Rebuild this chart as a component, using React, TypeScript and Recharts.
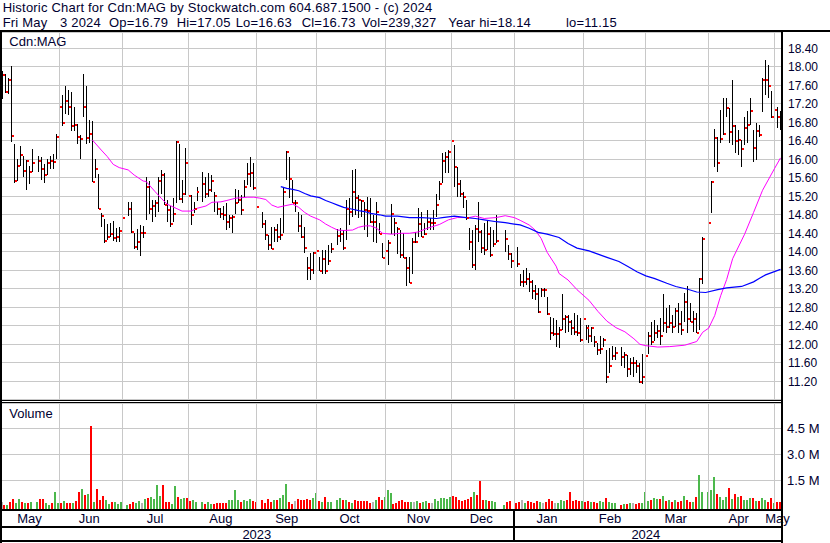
import React from "react";
import {
  ComposedChart,
  Bar,
  Line,
  Scatter,
  XAxis,
  YAxis,
  CartesianGrid,
  ReferenceLine,
} from "recharts";

const FONT = '"Liberation Sans", Arial, sans-serif';
const INK = "#000030";
const GRID = "#c8c8c8";

// one slot per weekday, 2023-05-05 .. 2024-05-03; null = TSX holiday
const highs = [
  17.91, 17.84, 17.75, 18.02, 16.32, 16.0, 16.29, 16.07, 15.98, 15.86,
  16.22, null, 16.07, 16.04, 15.9, 16.0, 16.07, 16.11, 16.55, 17.3,
  17.4, 17.58, 17.5, 17.46, 17.14, 16.76, 16.52, 17.84, 17.58, 16.85,
  16.83, 16.01, 15.68, 14.83, 14.71, 14.6, 14.62, 14.67, 14.52, 14.54,
  14.8, null, 15.08, 15.08, 14.4, 14.49, 14.58, 14.55, 15.62, 15.52,
  15.11, 15.12, 15.62, 15.77, 15.7, 15.12, 14.98, 15.16, 16.4, 16.34,
  15.55, 16.24, 15.52, 15.23, 15.08, 15.4, null, 15.72, 15.62, 15.7,
  15.66, 15.3, 15.08, 14.94, 14.98, 15.05, 14.8, 14.8, 15.36, 15.34,
  15.23, 15.55, 15.91, 16.06, 15.91, 15.73, null, 14.85, 14.69, 14.36,
  14.54, 14.54, 14.61, 14.74, 15.41, 16.18, 16.06, 15.55, 15.12, 14.87,
  14.8, 14.54, 13.89, 13.97, 14.0, 14.65, 13.89, 14.04, 14.04, 14.15,
  14.18, null, 14.5, 14.51, 14.47, 15.13, 15.16, 15.77, 15.78, 15.23,
  15.12, 15.08, 15.19, 15.16, 14.8, 15.08, 14.62, 14.18, 14.18, 14.25,
  15.03, 14.74, 14.54, 14.47, 14.4, 13.89, 13.89, 14.29, 14.43, 14.94,
  14.87, 14.62, 14.9, 14.72, 14.9, 15.26, 15.52, 16.13, 16.16, 16.2,
  16.43, 16.31, 15.83, 15.55, 15.3, 15.12, 14.51, 14.47, 14.58, 15.08,
  14.47, 14.62, 14.69, 14.54, 14.47, 14.8, null, null, 14.47, 14.15,
  13.97, null, 14.11, 13.53, 13.6, 13.64, 13.55, 13.39, 13.28, 13.21,
  13.21, 13.21, 13.03, 12.6, 12.56, 12.53, 12.38, 13.08, 12.63, 12.63,
  12.53, 12.67, 12.63, 12.56, 12.67, 12.42, 12.42, 12.38, 12.17, 12.02,
  12.17, 12.13, 11.88, 11.91, 11.96, 11.95, null, 11.95, 11.84, 11.77,
  11.7, 11.73, 11.66, 11.59, 11.8, 11.84, 12.27, 12.49, 12.53, 12.42,
  12.56, 13.09, 12.78, 12.85, 12.63, 12.78, 12.89, 12.71, 13.1, 13.25,
  12.89, 12.71, 12.67, 13.43, 14.33, null, 15.08, 15.54, 16.66, 16.49,
  17.07, 17.32, 17.33, 17.1, 17.71, 16.74, 16.63, 16.42, 16.92, 17.04,
  17.33, 16.63, 16.78, 16.74, 17.75, 18.14, 18.04, 17.48, 17.28, 17.14,
  17.05,
];

const lows = [
  17.3, 17.43, 17.41, 16.38, 15.49, 15.52, 15.86, 15.62, 15.34, 15.47,
  15.72, null, 15.73, 15.55, 15.49, 15.66, 15.78, 15.78, 16.0, 16.55,
  16.73, 16.97, 16.96, 16.62, 16.62, 16.32, 16.01, 16.92, 16.32, 16.35,
  15.5, 15.6, 14.92, 14.54, 14.2, 14.26, 14.33, 14.24, 14.21, 14.21,
  14.4, null, 14.77, 14.4, 14.06, 14.03, 13.91, 14.3, 14.69, 14.81,
  14.65, 14.76, 14.87, 15.25, 15.01, 14.65, 14.54, 14.65, 15.06, 15.12,
  15.05, 15.23, 15.05, 14.58, 14.83, 15.1, null, 15.08, 15.16, 15.19,
  15.3, 14.87, 14.8, 14.72, 14.69, 14.47, 14.51, 14.4, 14.82, 15.05,
  14.8, 15.19, 15.44, 15.41, 15.34, 14.94, null, 14.52, 14.26, 14.04,
  14.05, 14.22, 14.22, 14.26, 14.4, 15.55, 15.16, 15.06, 14.87, 14.43,
  14.29, 13.97, 13.39, 13.39, 13.53, 13.53, 13.59, 13.53, 13.53, 13.71,
  13.97, null, 14.15, 14.22, 14.04, 14.26, 14.58, 14.76, 14.8, 14.72,
  14.76, 14.47, 14.33, 14.62, 14.22, 14.18, 14.38, 13.86, 13.75, 13.71,
  14.38, 14.34, 13.95, 13.86, 13.86, 13.25, 13.32, 13.53, 14.2, 14.33,
  14.31, 14.36, 14.47, 14.47, 14.47, 14.76, 15.12, 15.48, 15.71, 15.71,
  15.77, 15.41, 15.19, 15.19, 14.94, 14.69, 14.04, 13.64, 13.61, 14.22,
  13.97, 13.93, 14.04, 13.89, 14.11, 14.18, null, null, 14.0, 13.82,
  13.64, null, 13.68, 13.25, 13.23, 13.28, 13.12, 12.97, 12.96, 12.67,
  13.03, 13.03, 12.63, 12.09, 12.17, 11.95, 11.91, 12.31, 12.24, 12.27,
  12.2, 12.2, 12.17, 12.06, 12.27, 12.09, 12.02, 12.06, 11.95, 11.77,
  11.8, 11.95, 11.17, 11.37, 11.66, 11.66, null, 11.52, 11.48, 11.3,
  11.34, 11.3, 11.37, 11.17, 11.15, 11.45, 11.8, 11.98, 12.07, 12.13,
  11.98, 12.27, 12.24, 12.35, 12.24, 12.38, 12.24, 12.2, 12.49, 12.24,
  12.49, 12.27, 12.24, 12.3, 13.3, null, 14.42, 14.83, 15.84, 15.73,
  16.35, 16.53, 16.92, 16.35, 16.31, 16.13, 16.09, 15.84, 16.31, 16.35,
  16.74, 15.95, 15.99, 16.49, 17.03, 17.39, 17.32, 16.89, 16.78, 16.67,
  16.63,
];

const closes = [
  17.82, 17.46, 17.72, 16.51, 15.52, 15.86, 16.09, 15.75, 15.96, 15.73,
  15.93, null, 15.97, 15.8, 15.65, 15.91, 15.96, 15.95, 16.49, 17.14,
  16.78, 17.25, 17.14, 16.73, 16.74, 16.49, 16.44, 17.12, 16.47, 16.55,
  15.5, 15.79, 14.92, 14.77, 14.24, 14.33, 14.39, 14.3, 14.33, 14.46,
  14.74, null, 14.92, 14.43, 14.11, 14.21, 14.41, 14.41, 15.39, 14.93,
  14.99, 15.05, 15.53, 15.65, 15.01, 14.9, 14.6, 14.81, 16.37, 15.14,
  15.26, 15.91, 15.21, 14.8, 14.93, 15.3, null, 15.46, 15.24, 15.34,
  15.53, 15.21, 14.93, 14.82, 14.8, 14.64, 14.74, 14.76, 15.05, 15.13,
  14.9, 15.39, 15.68, 15.71, 15.37, 14.97, null, 14.59, 14.37, 14.15,
  14.05, 14.47, 14.33, 14.37, 15.3, 16.16, 15.57, 15.06, 15.06, 14.56,
  14.33, 14.08, 13.66, 13.61, 13.98, 14.02, 13.59, 13.84, 13.59, 13.8,
  14.05, null, 14.35, 14.39, 14.08, 14.93, 14.85, 15.3, 15.17, 15.11,
  15.1, 14.9, 14.88, 14.65, 14.65, 14.85, 14.38, 13.86, 14.02, 14.2,
  14.81, 14.63, 14.5, 13.94, 13.87, 13.66, 13.33, 14.21, 14.21, 14.6,
  14.33, 14.39, 14.64, 14.63, 14.63, 15.01, 15.46, 15.97, 16.04, 16.16,
  16.4, 15.84, 15.46, 15.26, 15.19, 14.72, 14.22, 13.71, 14.49, 14.43,
  14.09, 14.04, 14.39, 13.94, 14.16, 14.24, null, null, 14.28, 13.95,
  13.79, null, 13.73, 13.35, 13.35, 13.41, 13.34, 13.16, 13.08, 12.7,
  13.17, 13.17, 12.65, 12.25, 12.22, 12.22, 12.31, 12.54, 12.58, 12.48,
  12.35, 12.26, 12.25, 12.09, 12.55, 12.35, 12.17, 12.35, 12.04, 11.88,
  11.89, 12.09, 11.3, 11.54, 11.75, 11.82, null, 11.72, 11.76, 11.47,
  11.6, 11.6, 11.53, 11.19, 11.3, 11.74, 12.18, 12.04, 12.25, 12.29,
  12.17, 12.45, 12.38, 12.45, 12.38, 12.72, 12.43, 12.3, 12.92, 12.54,
  12.49, 12.54, 12.24, 13.41, 14.28, null, 14.63, 15.5, 16.47, 15.93,
  16.44, 16.55, 17.1, 16.58, 16.71, 16.4, 16.42, 16.22, 16.68, 16.74,
  17.05, 16.25, 16.61, 16.53, 17.71, 17.72, 17.59, 16.91, 17.06, 16.91,
  16.73,
];

// millions of shares
const volumes = [
  0.27, 0.1, 0.1, 0.27, 0.42, 0.18, 0.42, 0.23, 0.18, 0.18,
  0.23, null, 0.23, 0.42, 0.42, 0.18, 0.08, 0.2, 0.85, 0.2,
  0.2, 0.3, 0.18, 0.2, 0.18, 0.33, 0.85, 0.98, 0.65, 0.7,
  4.62, 0.25, 1.0, 0.35, 0.6, 0.35, 0.15, 0.25, 0.22, 0.15,
  0.25, null, 0.05, 0.15, 0.25, 0.2, 0.3, 0.2, 0.4, 0.45,
  0.55, 0.4, 1.25, 0.6, 1.2, 0.25, 0.25, 0.12, 1.18, 0.55,
  0.4, 0.5, 0.45, 0.3, 0.35, 0.25, null, 0.22, 0.15, 0.25,
  0.15, 0.15, 0.18, 0.2, 0.2, 0.2, 0.35, 0.35, 0.95, 0.35,
  0.25, 0.35, 0.3, 0.4, 0.3, 0.25, null, 0.35, 0.2, 0.4,
  0.25, 0.35, 0.35, 0.45, 0.65, 1.3, 0.25, 0.15, 0.28, 0.4,
  0.38, 0.35, 0.4, 0.35, 0.45, 0.75, 0.3, 0.25, 0.55, 0.25,
  0.25, null, 0.35, 0.5, 0.35, 0.35, 0.25, 0.2, 0.35, 0.3,
  0.3, 0.3, 0.3, 0.2, 0.25, 0.35, 0.55, 0.35, 0.55, 0.95,
  0.75, 0.15, 0.2, 0.3, 0.35, 0.25, 0.25, 0.25, 0.22, 0.3,
  0.2, 0.25, 0.3, 0.18, 0.2, 0.4, 0.3, 0.5, 0.45, 0.4,
  0.55, 0.6, 0.55, 0.35, 0.3, 0.35, 0.4, 0.55, 0.8, 0.65,
  1.45, 0.35, 0.35, 0.3, 0.3, 0.25, null, null, 0.1, 0.25,
  0.3, null, 0.2, 0.25, 0.35, 0.2, 0.3, 0.25, 0.2, 0.3,
  0.25, 0.2, 0.25, 0.4, 0.3, 0.2, 0.2, 0.35, 0.3, 0.35,
  0.85, 0.3, 0.35, 0.3, 0.3, 0.25, 0.3, 0.25, 0.25, 0.2,
  0.3, 0.25, 0.45, 0.25, 0.2, 0.2, null, 0.1, 0.15, 0.15,
  0.2, 0.2, 0.15, 0.2, 0.2, 0.8, 0.3, 0.35, 0.45, 0.4,
  0.4, 0.6, 0.3, 0.35, 0.25, 0.35, 0.25, 0.3, 0.6, 0.35,
  0.25, 0.25, 0.55, 1.8, 0.85, null, 0.8, 0.95, 1.7, 0.7,
  0.55, 0.35, 0.55, 1.05, 0.4, 0.7, 0.55, 0.6, 0.35, 0.35,
  0.45, 0.45, 0.3, 0.3, 0.45, 0.35, 0.25, 0.5, 0.2, 0.25,
  0.24,
];

// moving averages: [slot, value]
const maShort: [number, number][] = [
  [30, 16.42], [33, 16.2], [35, 16.06], [37, 15.89], [39, 15.82], [42, 15.77],
  [44, 15.66], [47, 15.53], [48, 15.52], [51, 15.3], [53, 15.16], [55, 15.03],
  [58, 14.94], [60, 14.88], [63, 14.88], [65, 14.94], [68, 14.99], [70, 15.07],
  [73, 15.08], [75, 15.11], [78, 15.16], [80, 15.17], [82, 15.18], [84, 15.18],
  [86, 15.16], [88, 15.13], [90, 15.01], [92, 14.96], [94, 14.99], [97, 15.03],
  [99, 14.96], [101, 14.85], [103, 14.77], [106, 14.69], [108, 14.6], [110, 14.53],
  [112, 14.47], [114, 14.46], [117, 14.47], [119, 14.53], [121, 14.56], [123, 14.56],
  [125, 14.51], [127, 14.4], [130, 14.38], [133, 14.4], [136, 14.4], [139, 14.43],
  [142, 14.51], [146, 14.59], [149, 14.69], [152, 14.74], [156, 14.74], [158, 14.77],
  [161, 14.72], [165, 14.74], [168, 14.78], [171, 14.74], [173, 14.68], [176, 14.58],
  [178, 14.47], [180, 14.29], [182, 13.99], [185, 13.69], [186, 13.53], [189, 13.39],
  [192, 13.18], [196, 12.95], [199, 12.71], [202, 12.5], [205, 12.36], [208, 12.27],
  [211, 12.12], [213, 12.0], [215, 11.97], [219, 11.94], [223, 11.95], [228, 11.98],
  [232, 12.06], [234, 12.26], [236, 12.35], [238, 12.62], [240, 13.05], [242, 13.4],
  [244, 13.85], [248, 14.38], [251, 14.85], [254, 15.33], [258, 15.8], [260, 16.03],
];

const maLong: [number, number][] = [
  [93, 15.41], [95, 15.37], [97, 15.35], [99, 15.32], [101, 15.26], [103, 15.21],
  [106, 15.17], [108, 15.11], [110, 15.06], [112, 15.01], [114, 14.96], [117, 14.92],
  [119, 14.89], [121, 14.87], [123, 14.83], [126, 14.8], [128, 14.77], [132, 14.77],
  [136, 14.74], [140, 14.74], [145, 14.72], [147, 14.74], [151, 14.77], [155, 14.74],
  [158, 14.72], [161, 14.69], [165, 14.65], [168, 14.63], [171, 14.6], [173, 14.58],
  [176, 14.51], [179, 14.42], [182, 14.38], [186, 14.31], [189, 14.18], [192, 14.08],
  [196, 14.02], [199, 13.95], [202, 13.88], [206, 13.79], [209, 13.68], [212, 13.57],
  [215, 13.48], [218, 13.42], [222, 13.32], [225, 13.25], [229, 13.19], [232, 13.13],
  [235, 13.12], [239, 13.18], [242, 13.22], [247, 13.25], [251, 13.35], [253, 13.43],
  [255, 13.5], [260, 13.62],
];

const monthStartSlots = [19, 40, 62, 85, 105, 128, 150, 171, 194, 215, 236, 258];
const monthLabelSlots = [9, 29, 51, 73, 95, 116, 139, 160, 182, 203, 225, 246, 259];
const monthLabels = ["May", "Jun", "Jul", "Aug", "Sep", "Oct", "Nov", "Dec", "Jan", "Feb", "Mar", "Apr", "May"];
const yearLabelSlots = [85, 215];
const yearLabels = ["2023", "2024"];
const priceTicks = [11.2, 11.6, 12.0, 12.4, 12.8, 13.2, 13.6, 14.0, 14.4, 14.8, 15.2, 15.6, 16.0, 16.4, 16.8, 17.2, 17.6, 18.0, 18.4];
const volTicks = [1.5, 3.0, 4.5];

const PRICE_DOMAIN: [number, number] = [10.817, 18.752];
const VOL_FLOOR = -0.156;
const VOL_DOMAIN: [number, number] = [VOL_FLOOR, 5.96];

type Row = {
  slot: number;
  range: [number, number] | null;
  close: number | null;
  volRange: [number, number] | null;
  dir: number;
  maS: number | null;
  maL: number | null;
};

const rows: Row[] = highs.map((h, i) => {
  const c = closes[i];
  let prev: number | null = null;
  for (let j = i - 1; j >= 0; j--) {
    if (closes[j] != null) {
      prev = closes[j];
      break;
    }
  }
  const dir = c == null || prev == null ? 0 : c > prev ? 1 : c < prev ? -1 : 0;
  const v = volumes[i];
  return {
    slot: i,
    range: h == null ? null : [lows[i] as number, h],
    close: c,
    volRange: v == null ? null : [VOL_FLOOR, v],
    dir,
    maS: null,
    maL: null,
  };
});
maShort.forEach(([s, v]) => (rows[s].maS = v));
maLong.forEach(([s, v]) => (rows[s].maL = v));

// ── shapes ───────────────────────────────────────────────────────────────────

const hGrid = (p: any) => {
  const y = Math.floor(p.y1) + 0.5;
  return <line key={`h-${p.index}-${p.y1}`} x1={p.x1} x2={p.x2} y1={y} y2={y} stroke={GRID} strokeWidth={1} />;
};

const vGrid = (p: any) => {
  const x = Math.floor(p.x1) + 0.5;
  return <line x1={x} x2={x} y1={p.y1} y2={p.y2} stroke={GRID} strokeWidth={1} />;
};

const OhlcShape = (p: any) => {
  if (p.height == null || isNaN(p.y)) return null;
  const cx = Math.floor(p.x + p.width / 2);
  const top = Math.round(p.y);
  const h = Math.max(1, Math.round(p.y + p.height) - top);
  return <rect x={cx} y={top} width={1} height={h} fill="#000" />;
};

const CloseTick = (p: any) => {
  if (p.payload?.close == null || p.cy == null || isNaN(p.cy)) return <g />;
  const cx = Math.floor(p.cx);
  return <rect x={cx + 1} y={Math.round(p.cy) - 1} width={2} height={2} fill="#ff0000" />;
};

const VolShape = (p: any) => {
  if (p.height == null || isNaN(p.y)) return null;
  const cx = Math.floor(p.x + p.width / 2);
  const d = p.payload?.dir;
  const fill = d > 0 ? "#4cb84c" : d < 0 ? "#ff0000" : "#b4b4b4";
  const top = Math.round(p.y);
  const h = Math.max(1, Math.round(p.y + p.height) - top);
  return <rect x={cx - 1} y={top} width={2} height={h} fill={fill} />;
};

const PriceTick = (p: any) => (
  <text x={p.x} y={p.y + 4.3} fontSize={12} fontFamily={FONT} fill={INK} textAnchor="start">
    {Number(p.payload.value).toFixed(2)}
  </text>
);

const VolTick = (p: any) => (
  <text x={p.x} y={p.y + 4.6} fontSize={13} fontFamily={FONT} fill={INK} textAnchor="start">
    {`${Number(p.payload.value).toFixed(1)} M`}
  </text>
);

const MonthTick = (p: any) => {
  const i = monthLabelSlots.indexOf(p.payload.value);
  if (i < 0) return <g />;
  return (
    <text x={p.x} y={p.y + 14.3} fontSize={13} fontFamily={FONT} fill={INK} textAnchor="middle">
      {monthLabels[i]}
    </text>
  );
};

const YearTick = (p: any) => {
  const i = yearLabelSlots.indexOf(p.payload.value);
  if (i < 0) return <g />;
  return (
    <text x={p.x} y={p.y + 13} fontSize={13} fontFamily={FONT} fill={INK} textAnchor="middle">
      {yearLabels[i]}
    </text>
  );
};

// ── header pieces ────────────────────────────────────────────────────────────

const headerLine2: [number, string][] = [
  [2.7, "Fri May"],
  [60, "3 2024"],
  [109, "Op=16.79"],
  [176.7, "Hi=17.05"],
  [235.7, "Lo=16.63"],
  [301.7, "Cl=16.73"],
  [361.7, "Vol=239,327"],
  [448.3, "Year hi=18.14"],
  [566, "lo=11.15"],
];

export default function App() {
  return (
    <div
      style={{
        position: "fixed",
        left: 0,
        top: 0,
        width: 830,
        height: 543,
        background: "#fff",
        overflow: "hidden",
      }}
    >
      <div style={{ position: "absolute", left: 0, top: 0 }}>
        <ComposedChart width={830} height={400} data={rows} margin={{ top: 32, right: 0, bottom: 1, left: 1 }}>
          <CartesianGrid vertical={false} horizontal={hGrid} />
          <XAxis dataKey="slot" type="category" hide />
          <YAxis
            orientation="right"
            type="number"
            width={48}
            domain={PRICE_DOMAIN}
            ticks={priceTicks}
            allowDataOverflow
            interval={0}
            axisLine={false}
            tickLine={false}
            tickSize={0}
            tickMargin={6}
            tick={PriceTick}
          />
          {monthStartSlots.map((s) => (
            <ReferenceLine key={s} x={s} stroke={GRID} shape={vGrid} />
          ))}
          <Bar dataKey="range" barSize={1} shape={OhlcShape} isAnimationActive={false} />
          <Scatter dataKey="close" shape={CloseTick} isAnimationActive={false} />
          <Line dataKey="maS" stroke="#ff00ff" strokeWidth={1} dot={false} activeDot={false} connectNulls isAnimationActive={false} />
          <Line dataKey="maL" stroke="#0000ff" strokeWidth={1.2} dot={false} activeDot={false} connectNulls isAnimationActive={false} />
        </ComposedChart>
      </div>

      <div style={{ position: "absolute", left: 0, top: 403 }}>
        <ComposedChart width={830} height={140} data={rows} margin={{ top: 0, right: 0, bottom: 0, left: 1 }}>
          <CartesianGrid vertical={false} horizontal={hGrid} />
          <XAxis
            dataKey="slot"
            type="category"
            height={17}
            interval={0}
            axisLine={false}
            tickLine={false}
            tickSize={0}
            tickMargin={0}
            tick={MonthTick}
          />
          <XAxis
            xAxisId="yr"
            dataKey="slot"
            type="category"
            height={17}
            interval={0}
            axisLine={false}
            tickLine={false}
            tickSize={0}
            tickMargin={0}
            tick={YearTick}
          />
          <YAxis
            orientation="right"
            type="number"
            width={48}
            domain={VOL_DOMAIN}
            ticks={volTicks}
            allowDataOverflow
            interval={0}
            axisLine={false}
            tickLine={false}
            tickSize={0}
            tickMargin={5}
            tick={VolTick}
          />
          {monthStartSlots.map((s) => (
            <ReferenceLine key={s} x={s} stroke={GRID} shape={vGrid} />
          ))}
          <Bar dataKey="volRange" barSize={2} shape={VolShape} isAnimationActive={false} />
        </ComposedChart>
      </div>

      {/* frame + labels */}
      <svg width={830} height={543} style={{ position: "absolute", left: 0, top: 0, pointerEvents: "none" }}>
        <text x={2.7} y={12} fontSize={13} letterSpacing={0.2} fontFamily={FONT} fill={INK}>
          Historic Chart for Cdn:MAG by Stockwatch.com 604.687.1500 - (c) 2024
        </text>
        {headerLine2.map(([x, t]) => (
          <text key={t} x={x} y={26.6} fontSize={13} letterSpacing={0.2} fontFamily={FONT} fill={INK}>
            {t}
          </text>
        ))}
        <text x={9.3} y={46} fontSize={13} fontFamily={FONT} fill={INK}>
          Cdn:MAG
        </text>
        <text x={9.3} y={418.3} fontSize={13} fontFamily={FONT} fill={INK}>
          Volume
        </text>
        <rect x={0} y={30} width={830} height={2} fill="#000" />
        <rect x={0} y={30} width={2} height={513} fill="#000" />
        <rect x={781} y={30} width={2} height={513} fill="#000" />
        <rect x={0} y={400} width={783} height={1} fill="#000" />
        <rect x={0} y={402} width={783} height={1} fill="#000" />
        <rect x={0} y={509} width={783} height={2} fill="#000" />
        <rect x={0} y={526} width={783} height={2} fill="#000" />
        <rect x={0} y={540} width={783} height={2} fill="#000" />
        <rect x={513} y={509} width={2} height={32} fill="#000" />
      </svg>
    </div>
  );
}
